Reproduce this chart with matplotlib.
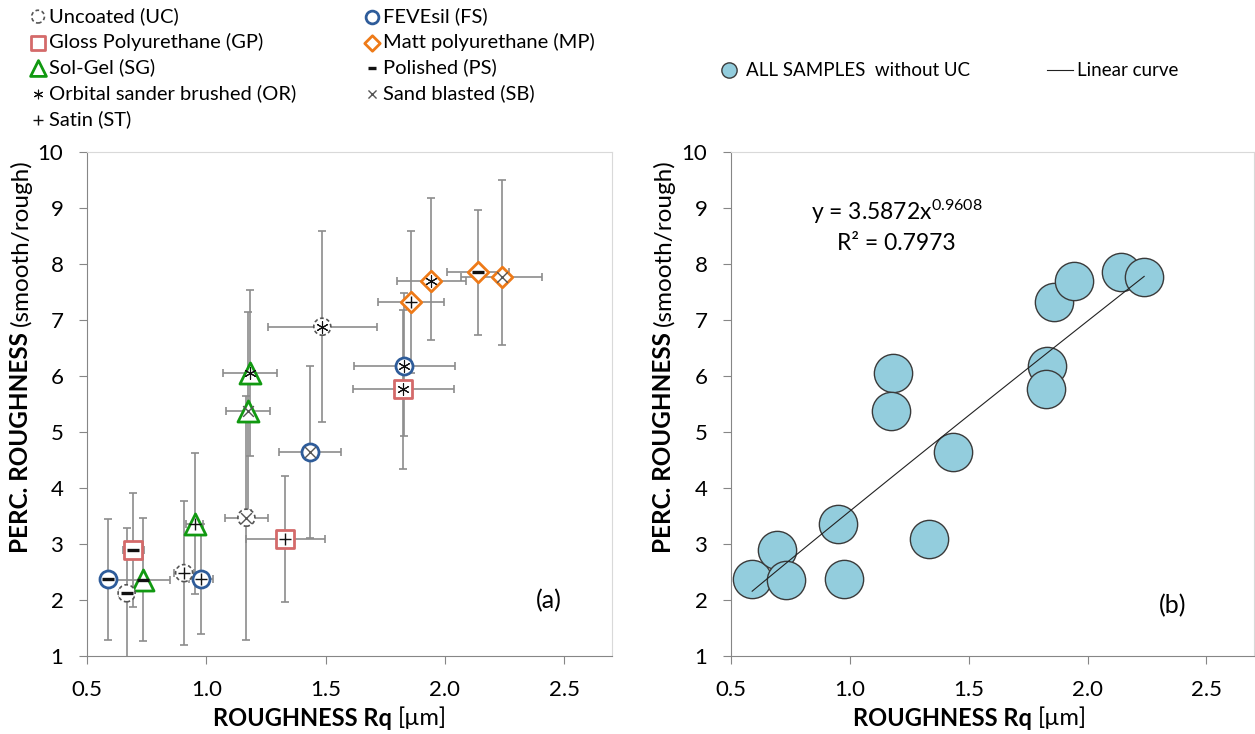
import numpy as np
import matplotlib.pyplot as plt
from matplotlib.lines import Line2D

plt.rcParams['font.family'] = ['Lato', 'DejaVu Sans']
plt.rcParams['mathtext.fontset'] = 'custom'
plt.rcParams['mathtext.rm'] = 'Lato'
plt.rcParams['mathtext.it'] = 'Lato'

## Data
# coated samples: coating, treatment, Rq, perceived roughness, errors
coat = ['FS', 'GP', 'SG', 'SG', 'FS', 'SG', 'SG', 'GP', 'FS', 'FS', 'GP', 'MP', 'MP', 'MP', 'MP']
treat = ['PS', 'PS', 'PS', 'ST', 'ST', 'OR', 'SB', 'ST', 'SB', 'OR', 'OR', 'ST', 'OR', 'PS', 'SB']
rq = [0.589, 0.694, 0.733, 0.952, 0.976, 1.182, 1.175, 1.331, 1.433, 1.830, 1.826, 1.858, 1.942, 2.140, 2.238]
perc = [2.37, 2.89, 2.36, 3.36, 2.37, 6.05, 5.375, 3.09, 4.64, 6.17, 5.76, 7.32, 7.70, 7.85, 7.76]
rq_err = [0.02, 0.045, 0.114, 0.036, 0.05, 0.113, 0.092, 0.165, 0.13, 0.21, 0.21, 0.14, 0.145, 0.13, 0.17]
perc_lo = [1.08, 1.02, 1.10, 1.26, 0.98, 1.48, 1.76, 1.13, 1.53, 1.25, 1.42, 1.27, 1.05, 1.11, 1.21]
perc_hi = [1.08, 1.02, 1.10, 1.26, 0.98, 1.48, 1.76, 1.13, 1.53, 1.31, 1.42, 1.27, 1.48, 1.11, 1.745]

# uncoated samples
uc_treat = ['PS', 'ST', 'SB', 'OR']
uc_rq = [0.666, 0.907, 1.168, 1.486]
uc_perc = [2.12, 2.48, 3.47, 6.88]
uc_rq_err = [0.03, 0.042, 0.089, 0.228]
uc_perc_err = [1.17, 1.29, 2.18, 1.71]

# power trend line shown in (b)
fit_a = 3.5872
fit_b = 0.9608
fit_r2 = 0.7973

xticks = [0.5, 1.0, 1.5, 2.0, 2.5]
xticklabels = ['0.5', '1.0', '1.5', '2.0', '2.5']
yticks = list(range(1, 11))

coat_names = {'UC': 'Uncoated (UC)', 'FS': 'FEVEsil (FS)', 'GP': 'Gloss Polyurethane (GP)',
              'MP': 'Matt polyurethane (MP)', 'SG': 'Sol-Gel (SG)'}
treat_names = {'PS': 'Polished (PS)', 'OR': 'Orbital sander brushed (OR)',
               'SB': 'Sand blasted (SB)', 'ST': 'Satin (ST)'}

## styles
coat_style = {'FS': dict(marker='o', s=150, edgecolor='#2E5C9A'),
              'GP': dict(marker='s', s=170, edgecolor='#D46A6A'),
              'SG': dict(marker='^', s=230, edgecolor='#119911'),
              'MP': dict(marker='D', s=110, edgecolor='#EE7A18')}
treat_style = {'PS': dict(marker='_', s=70, color='#111111', linewidths=2.4),
               'ST': dict(marker='+', s=80, color='#111111', linewidths=1.0),
               'SB': dict(marker='x', s=60, color='#555555', linewidths=1.0),
               'OR': dict(marker=(6, 2, 0), s=70, color='#111111', linewidths=0.8)}

W, H = 1255, 734
fig = plt.figure(figsize=(W / 100, H / 100), dpi=100)


def px_axes(l, t, r, b):
    return fig.add_axes([l / W, 1 - b / H, (r - l) / W, (b - t) / H])


def style(ax):
    ax.set_xlim(0.5, 2.7)
    ax.set_ylim(1, 10)
    ax.set_xticks(xticks)
    ax.set_xticklabels(xticklabels)
    ax.set_yticks(yticks)
    for s in ['top', 'right']:
        ax.spines[s].set_color('#D9D9D9')
    for s in ['left', 'bottom']:
        ax.spines[s].set_color('#868686')
    ax.tick_params(axis='both', direction='out', length=6, color='#868686', labelsize=16)
    ax.tick_params(axis='y', pad=11)
    ax.tick_params(axis='x', pad=11)


def two_part_xlabel(cx, y, bold, regular, fs=17):
    t1 = fig.text(cx / W, 1 - y / H, bold, fontsize=fs, fontweight='bold', ha='left', va='center')
    t2 = fig.text(0, 0, regular, fontsize=fs, ha='left', va='center')
    fig.canvas.draw()
    r = fig.canvas.get_renderer()
    w1 = t1.get_window_extent(r).width
    w2 = t2.get_window_extent(r).width
    x0 = cx - (w1 + w2) / 2
    t1.set_x(x0 / W)
    t2.set_position(((x0 + w1) / W, 1 - y / H))


def two_part_ylabel(x, cy, bold, regular, fs=17.5):
    t1 = fig.text(x / W, 0, bold, fontsize=fs, fontweight='bold', rotation=90, ha='center', va='bottom')
    t2 = fig.text(x / W, 0, regular, fontsize=fs, rotation=90, ha='center', va='bottom')
    fig.canvas.draw()
    r = fig.canvas.get_renderer()
    h1 = t1.get_window_extent(r).height
    h2 = t2.get_window_extent(r).height
    y0 = (H - cy) - (h1 + h2) / 2
    t1.set_y(y0 / H)
    t2.set_y((y0 + h1) / H)


axa = px_axes(87, 152, 612, 656)
axb = px_axes(731, 152, 1254, 656)
style(axa)
style(axb)

## panel (a)
axa.errorbar(rq + uc_rq, perc + uc_perc, xerr=rq_err + uc_rq_err,
             yerr=[perc_lo + uc_perc_err, perc_hi + uc_perc_err],
             fmt='none', ecolor='#8C8C8C', elinewidth=1.2, capsize=3, capthick=1.2, zorder=2)

handles = {}
for c, st in coat_style.items():
    idx = [i for i, k in enumerate(coat) if k == c]
    handles[c] = axa.scatter([rq[i] for i in idx], [perc[i] for i in idx], facecolor='white',
                             linewidths=2, zorder=3, label=coat_names[c], **st)
handles['UC'] = axa.scatter(uc_rq, uc_perc, marker='o', s=150, facecolor='white', edgecolor='#555555',
                            linewidths=1.2, linestyle=(0, (2.2, 1.6)), zorder=3, label=coat_names['UC'])

all_treat = treat + uc_treat
all_rq = rq + uc_rq
all_perc = perc + uc_perc
for t, st in treat_style.items():
    idx = [i for i, k in enumerate(all_treat) if k == t]
    handles[t] = axa.scatter([all_rq[i] for i in idx], [all_perc[i] for i in idx], zorder=4,
                             label=treat_names[t], **st)

axa.text(0.88, 0.11, '(a)', transform=axa.transAxes, fontsize=18, ha='center', va='center')

col1 = [handles[k] for k in ['UC', 'GP', 'SG', 'OR', 'ST']]
col2 = [handles[k] for k in ['FS', 'MP', 'PS', 'SB']]
leg_kw = dict(loc='upper left', frameon=False, fontsize=14.5, handletextpad=0.15, labelspacing=0.39,
              handlelength=0.8, markerscale=0.75, borderpad=0, borderaxespad=0)
fig.legend(handles=col1, bbox_to_anchor=(30 / W, 1 - 7 / H), **leg_kw)
fig.legend(handles=col2, bbox_to_anchor=(364 / W, 1 - 7 / H), **leg_kw)

## panel (b)
axb.scatter(rq, perc, s=760, facecolor='#93CDDD', edgecolor='#3A3A3A', linewidths=1.0, zorder=3)
xfit = np.linspace(min(rq), max(rq), 100)
axb.plot(xfit, fit_a * xfit ** fit_b, color='#222222', lw=0.8, zorder=4)
axb.text(0.316, 0.881, 'y = %.4fx$^{%.4f}$' % (fit_a, fit_b), transform=axb.transAxes, fontsize=16.5,
         ha='center', va='center')
axb.text(0.316, 0.819, 'R\u00b2 = %.4f' % fit_r2, transform=axb.transAxes, fontsize=16.5,
         ha='center', va='center')
axb.text(0.845, 0.10, '(b)', transform=axb.transAxes, fontsize=18, ha='center', va='center')

hb = [Line2D([], [], marker='o', ls='none', markersize=11, markerfacecolor='#93CDDD',
             markeredgecolor='#3A3A3A', label='ALL SAMPLES  without UC'),
      Line2D([], [], color='#222222', lw=0.8, label='Linear curve')]
fig.legend(handles=hb, loc='center left', bbox_to_anchor=(716 / W, 1 - 71 / H), ncol=2, frameon=False,
           fontsize=13.5, handletextpad=0.2, handlelength=1.4, columnspacing=4.1, borderpad=0,
           borderaxespad=0)

two_part_xlabel(330, 718, 'ROUGHNESS Rq ', '[\u00b5m]')
two_part_xlabel(970, 718, 'ROUGHNESS Rq ', '[\u00b5m]')
two_part_ylabel(21, 356, 'PERC. ROUGHNESS ', '(smooth/rough)')
two_part_ylabel(664, 356, 'PERC. ROUGHNESS ', '(smooth/rough)')

fig.savefig('out.png', dpi=100)
